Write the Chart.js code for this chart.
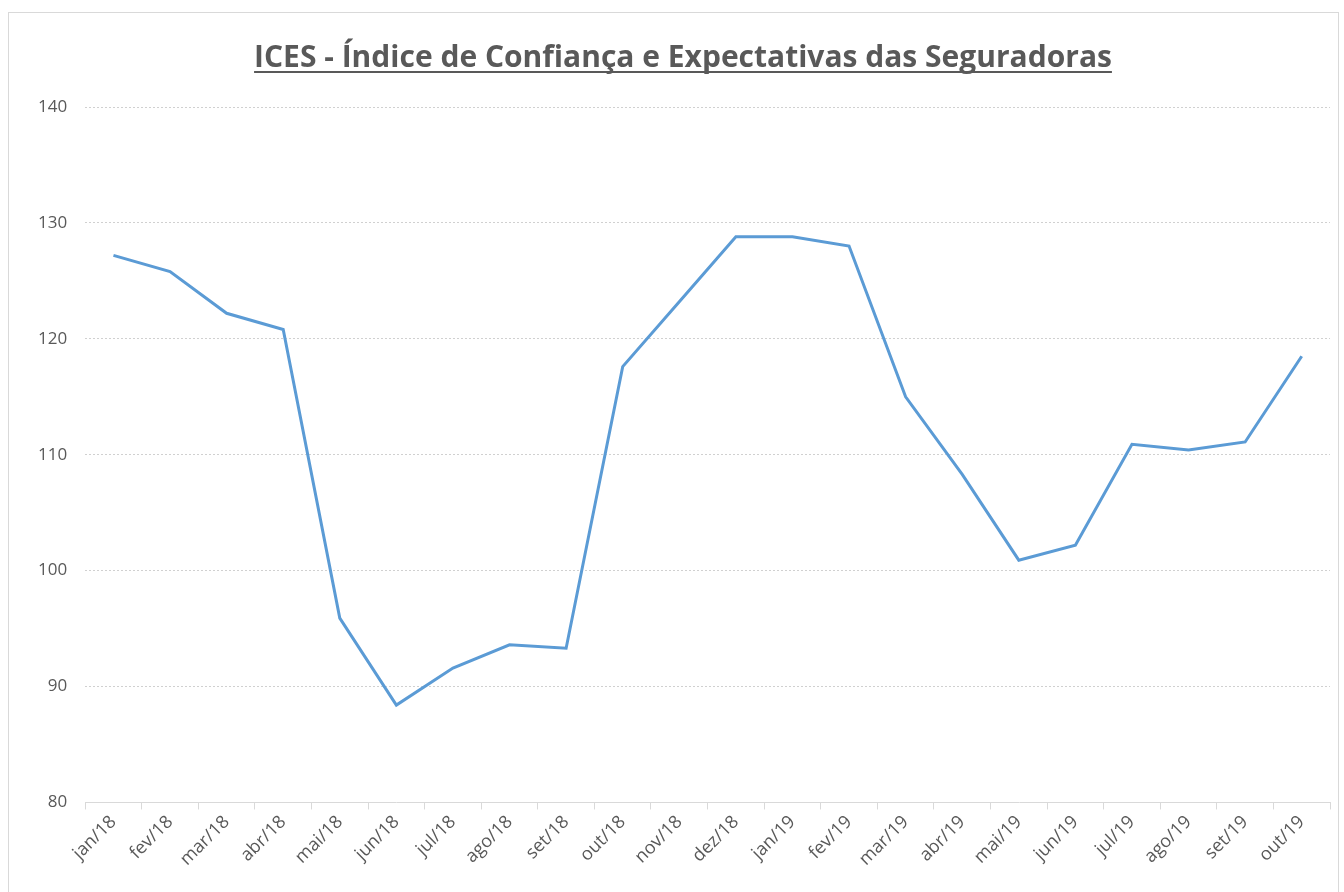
<!DOCTYPE html>
<html>
<head>
<meta charset="utf-8">
<script src="https://cdn.jsdelivr.net/npm/chart.js@4"></script>
<style>
  body { margin: 0; background: #fff; }
  #wrap { width: 1344px; height: 892px; }
</style>
</head>
<body>
<div id="wrap"><canvas id="ices" width="1344" height="892"></canvas></div>
<script>
const meses = ['jan/18', 'fev/18', 'mar/18', 'abr/18', 'mai/18', 'jun/18', 'jul/18', 'ago/18', 'set/18', 'out/18', 'nov/18', 'dez/18',
               'jan/19', 'fev/19', 'mar/19', 'abr/19', 'mai/19', 'jun/19', 'jul/19', 'ago/19', 'set/19', 'out/19'];
// valores
const ices = [127.2, 125.8, 122.2, 120.8, 95.9, 88.4, 91.6, 93.6, 93.3, 117.6, 123.2, 128.8,
              128.8, 128.0, 115.0, 108.3, 100.9, 102.2, 110.9, 110.4, 111.1, 118.5];
const yMin = 80, yMax = 140, yStep = 10;
const titulo = 'ICES - Índice de Confiança e Expectativas das Seguradoras';

const cinza = '#595959';
const fonteTxt = "'Open Sans', sans-serif";

// titulo sublinhado + moldura
const tituloPlugin = {
    id: 'tituloSublinhado',
    beforeDraw(chart) {
        const c = chart.ctx;
        c.save();
        c.strokeStyle = '#d9d9d9';
        c.lineWidth = 1;
        c.strokeRect(8.5, 12.5, 1330, 890);
        c.restore();
    },
    afterDraw(chart) {
        const c = chart.ctx;
        c.save();
        c.font = 'bold 30px ' + fonteTxt;
        c.fillStyle = cinza;
        c.textAlign = 'center';
        c.textBaseline = 'alphabetic';
        const x = 683, y = 67;
        c.fillText(titulo, x, y);
        const w = c.measureText(titulo).width;
        c.strokeStyle = cinza;
        c.lineWidth = 2;
        c.beginPath();
        c.moveTo(x - w / 2, y + 5);
        c.lineTo(x + w / 2, y + 5);
        c.stroke();
        c.restore();
    }
};

const ctx = document.getElementById('ices').getContext('2d');

const grafico = new Chart(ctx, {
    type: 'line',
    data: {
        labels: meses,
        datasets: [{
            label: 'ICES',
            data: ices,
            borderColor: '#5b9bd5',
            borderWidth: 3,
            pointRadius: 0,
            tension: 0,
            fill: false
        }]
    },
    options: {
        responsive: false,
        animation: false,
        layout: {
            padding: { top: 107, left: 20, right: 14, bottom: 20 }
        },
        plugins: {
            legend: { display: false },
            tooltip: { enabled: false },
            title: { display: false }
        },
        scales: {
            x: {
                offset: true,
                grid: {
                    offset: true,
                    drawOnChartArea: false,
                    drawTicks: true,
                    tickLength: 7,
                    color: '#d9d9d9'
                },
                border: { color: '#d9d9d9' },
                ticks: {
                    minRotation: 45,
                    maxRotation: 45,
                    autoSkip: false,
                    color: cinza,
                    padding: 2,
                    font: { size: 18, family: fonteTxt }
                }
            },
            y: {
                min: yMin,
                max: yMax,
                grid: {
                    color: '#d0d0d0',
                    drawTicks: false
                },
                border: { display: false, dash: [2, 2] },
                ticks: {
                    stepSize: yStep,
                    color: cinza,
                    padding: 18,
                    font: { size: 17, family: fonteTxt }
                }
            }
        }
    },
    plugins: [tituloPlugin]
});
</script>
</body>
</html>
